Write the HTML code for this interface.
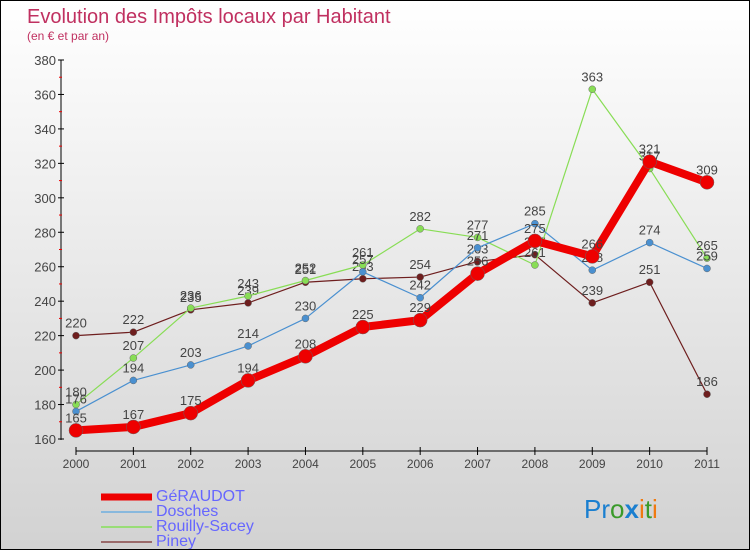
<!DOCTYPE html>
<html><head><meta charset="utf-8"><style>
body{margin:0}
#c{width:748px;height:548px;border:1px solid #000;background:linear-gradient(#fff,#d2d2d2);position:relative;font-family:"Liberation Sans",sans-serif;overflow:hidden}
svg text{font-family:"Liberation Sans",sans-serif}
</style></head><body>
<div id="c">
<svg id="s" width="748" height="548">
<text x="26" y="22" font-size="20" fill="#c03060">Evolution des Impôts locaux par Habitant</text>
<text x="26" y="39" font-size="12" fill="#c03060">(en € et par an)</text>
<text x="155" y="500" font-size="16" fill="#6666ff">GéRAUDOT</text>
<text x="155" y="515" font-size="16" fill="#6666ff">Dosches</text>
<text x="155" y="530" font-size="16" fill="#6666ff">Rouilly-Sacey</text>
<text x="155" y="545" font-size="16" fill="#6666ff">Piney</text>
<text x="583" y="517" font-size="26"><tspan fill="#1a7fd0">Pr</tspan><tspan fill="#3a9a2a">o</tspan><tspan fill="#1a7fd0" font-weight="bold">x</tspan><tspan fill="#f07a10">i</tspan><tspan fill="#3a9a2a">t</tspan><tspan fill="#f07a10">i</tspan></text>
</svg>
</div>
<script>
const years=["2000","2001","2002","2003","2004","2005","2006","2007","2008","2009","2010","2011"];
const yTicks=[160,180,200,220,240,260,280,300,320,340,360,380];
const geraudot=[165,167,175,194,208,225,229,256,275,266,321,309];
const dosches=[176,194,203,214,230,257,242,271,285,258,274,259];
const rouilly=[180,207,236,243,252,261,282,277,261,363,317,265];
const piney=[220,222,235,239,251,253,254,263,267,239,251,186];
const NS="http://www.w3.org/2000/svg";
const s=document.getElementById('s');
const X=i=>75+i*(706-75)/(years.length-1);
const Y=v=>438-(v-160)*(438-59)/(380-160);
function mk(t,a,p){const e=document.createElementNS(NS,t);for(const k in a)e.setAttribute(k,a[k]);(p||s).appendChild(e);return e;}
let ax=mk('line',{x1:60,y1:59,x2:60,y2:439,stroke:'#000','stroke-width':1});


let bx=mk('line',{x1:75,y1:450,x2:706,y2:450,stroke:'#000','stroke-width':1});


yTicks.forEach(v=>{
 mk('line',{x1:57,y1:Y(v),x2:63,y2:Y(v),stroke:'#000'});
 if(v<380)mk('line',{x1:58,y1:Y(v+10),x2:61,y2:Y(v+10),stroke:'#e00'});
 const t=mk('text',{x:55,y:Y(v)+5,'font-size':13,fill:'#444','text-anchor':'end'});
 t.textContent=v;
 
 
});
years.forEach((y,i)=>{
 mk('line',{x1:X(i),y1:446,x2:X(i),y2:454,stroke:'#000'});
 const t=mk('text',{x:X(i),y:467,'font-size':12,fill:'#444','text-anchor':'middle'});
 t.textContent=y;
 
 
});
function series(d,col,w,r,name){
 const g=mk('g',{});
 
 
 mk('polyline',{points:d.map((v,i)=>X(i)+','+Y(v)).join(' '),fill:'none',stroke:col,'stroke-width':w,'stroke-linejoin':'round'},g);
 d.forEach((v,i)=>{
  const c=mk('circle',{cx:X(i),cy:Y(v),r:r,fill:col,stroke:'#666','stroke-width':0.5},g);
  
  
  const t=mk('text',{x:X(i),y:Y(v)-8,'font-size':13,fill:'#444','text-anchor':'middle'},g);
  t.textContent=v;
  
  
 });
}
series(piney,'#6e1e1e',1.2,3.5,'piney');
series(rouilly,'#88dd55',1.2,3.5,'rouilly-sacey');
series(dosches,'#4a90d0',1.2,3.5,'dosches');
series(geraudot,'#ee0000',8,7,'geraudot');
[['#ee0000',7,496,'legend-swatch-geraudot'],['#88b8dd',2,511,'legend-swatch-dosches'],['#99dd77',2,526,'legend-swatch-rouilly'],['#9a6a6a',2,541,'legend-swatch-piney']].forEach(a=>{
 const l=mk('line',{x1:100,y1:a[2],x2:151,y2:a[2],stroke:a[0],'stroke-width':a[1]});
 
 
});
</script>
</body></html>
